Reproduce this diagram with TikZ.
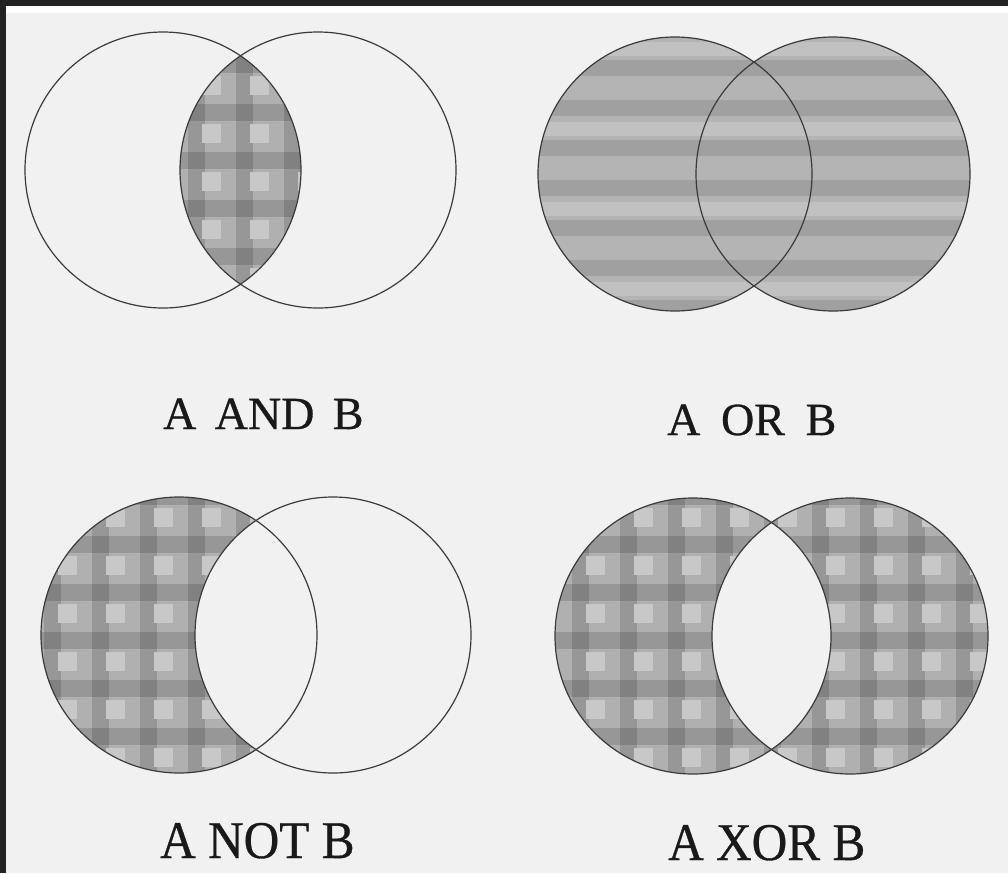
\documentclass[tikz,border=0pt]{standalone}
\usepackage{fontspec}
\setmainfont{Liberation Serif}
\newfontfamily\lblfont[FakeBold=0.6]{Liberation Serif}
\definecolor{bg}{HTML}{F1F1F1}
\definecolor{frame}{HTML}{222222}
\definecolor{plbase}{HTML}{B0B0B0}
\definecolor{pllight}{HTML}{C8C8C8}
\definecolor{ink}{HTML}{3A3A3A}
\tikzset{
  ring/.style={draw=ink, line width=1.2pt},
  lbltop/.style={font=\lblfont\fontsize{46}{50}\selectfont, inner sep=0pt, text=black!90, anchor=base west},
  lblbot/.style={font=\lblfont\fontsize{53}{56}\selectfont, inner sep=0pt, text=black!90, anchor=base west, xscale=0.93},
  band/.style={fill=black, fill opacity=0.14},
}
\newcommand\plaidfill{%
  \fill[plbase] (0,0) rectangle (1008,873);
  \foreach \x in {-4,44,...,1010} {\fill[band] (\x,0) rectangle ({\x+17},873);}
  \foreach \y in {8,56,...,880} {\fill[band] (0,\y) rectangle (1008,{\y+17});}
  \foreach \x in {-38,10,...,1010} {\foreach \y in {-20,28,...,880} {\fill[pllight] (\x,\y) rectangle ({\x+19},{\y+19});}}
}
\newcommand\stripefill{%
  \fill[plbase!95!white] (0,0) rectangle (1008,873);
  \foreach \y in {20,60,...,880} {\fill[band, fill opacity=0.11] (0,\y) rectangle (1008,{\y+16});}
  \foreach \y in {42,122,...,880} {\fill[white, fill opacity=0.18] (0,\y) rectangle (1008,{\y+14});}
}
\begin{document}
\begin{tikzpicture}[x=1pt,y=-1pt]
\useasboundingbox (0,0) rectangle (1008,873);
\fill[bg] (0,0) rectangle (1008,873);
\fill[frame] (0,0) rectangle (1008,6);
\fill[frame] (0,0) rectangle (6,873);
\fill[white] (6,6) rectangle (1008,13);

% A AND B
\begin{scope}
  \clip (163,170) circle[radius=138pt];
  \clip (318,170) circle[radius=138pt];
  \plaidfill
\end{scope}
\draw[ring] (163,170) circle[radius=138pt];
\draw[ring] (318,170) circle[radius=138pt];
\node[lbltop] (andlbl) at (163,429) {A\hspace{0.4em}AND\hspace{0.4em}B};

% A OR B
\begin{scope}
  \clip (675,174) circle[radius=137pt];
  \stripefill
\end{scope}
\begin{scope}
  \clip (833,174) circle[radius=137pt];
  \stripefill
\end{scope}
\draw[ring] (675,174) circle[radius=137pt];
\draw[ring] (833,174) circle[radius=137pt];
\node[lbltop] (orlbl) at (667,435) {A\hspace{0.45em}OR\hspace{0.45em}B};

% A NOT B
\begin{scope}
  \clip (179,635) circle[radius=138pt];
  \plaidfill
  \fill[bg] (333,635) circle[radius=138pt];
\end{scope}
\draw[ring] (179,635) circle[radius=138pt];
\draw[ring] (333,635) circle[radius=138pt];
\node[lblbot] (notlbl) at (160,858) {A NOT B};

% A XOR B
\begin{scope}
  \clip (693,636) circle[radius=138pt];
  \plaidfill
\end{scope}
\begin{scope}
  \clip (850,636) circle[radius=138pt];
  \plaidfill
\end{scope}
\begin{scope}
  \clip (693,636) circle[radius=138pt];
  \fill[bg] (850,636) circle[radius=138pt];
\end{scope}
\draw[ring] (693,636) circle[radius=138pt];
\draw[ring] (850,636) circle[radius=138pt];
\node[lblbot] (xorlbl) at (668,860) {A XOR B};
\end{tikzpicture}
\end{document}
